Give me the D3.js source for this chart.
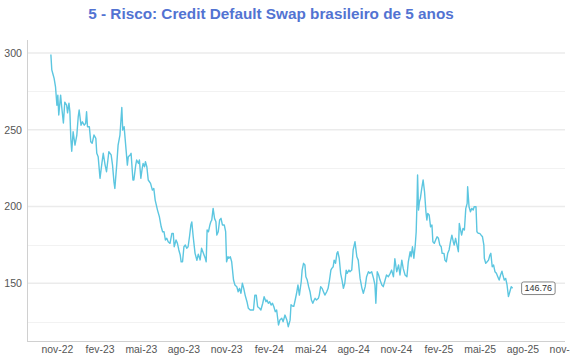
<!DOCTYPE html>
<html>
<head>
<meta charset="utf-8">
<script src="https://cdn.jsdelivr.net/npm/d3@7"></script>
<style>
html,body{margin:0;padding:0;background:#fff;}
svg{display:block;font-family:"Liberation Sans",Arial,Helvetica,sans-serif;}
</style>
</head>
<body>
<svg id="chart" width="570" height="360"></svg>
<script>
const title = "5 - Risco: Credit Default Swap brasileiro de 5 anos";
const monthNames = ["jan","fev","mar","abr","mai","jun","jul","ago","set","out","nov","dez"];
const xTickDates = ["2022-11-01","2023-02-01","2023-05-01","2023-08-01","2023-11-01","2024-02-01","2024-05-01","2024-08-01","2024-11-01","2025-02-01","2025-05-01","2025-08-01","2025-11-01"];
const yTickValues = [150, 200, 250, 300];
const yMinorValues = [125, 175, 225, 275];

const dates = [
"2022-10-19","2022-10-21","2022-10-24","2022-10-26","2022-10-29","2022-11-01","2022-11-03","2022-11-05","2022-11-09","2022-11-11",
"2022-11-15","2022-11-18","2022-11-22","2022-11-24","2022-11-27","2022-11-29","2022-12-01","2022-12-03","2022-12-06","2022-12-10",
"2022-12-14","2022-12-17","2022-12-19","2022-12-23","2022-12-26","2022-12-30","2023-01-02","2023-01-04","2023-01-06","2023-01-10",
"2023-01-13","2023-01-16","2023-01-20","2023-01-24","2023-01-26","2023-01-29","2023-02-02","2023-02-06","2023-02-09","2023-02-13",
"2023-02-16","2023-02-19","2023-02-21","2023-02-26","2023-03-01","2023-03-04","2023-03-06","2023-03-10","2023-03-13","2023-03-17",
"2023-03-21","2023-03-23","2023-03-26","2023-03-29","2023-04-02","2023-04-04","2023-04-08","2023-04-10","2023-04-14","2023-04-16",
"2023-04-20","2023-04-22","2023-04-26","2023-04-28","2023-05-01","2023-05-04","2023-05-06","2023-05-09","2023-05-11","2023-05-14",
"2023-05-17","2023-05-22","2023-05-26","2023-05-29","2023-06-01","2023-06-06","2023-06-10","2023-06-14","2023-06-17","2023-06-20",
"2023-06-23","2023-06-26","2023-06-29","2023-07-03","2023-07-07","2023-07-10","2023-07-12","2023-07-16","2023-07-19","2023-07-22",
"2023-07-25","2023-07-27","2023-07-30","2023-08-02","2023-08-05","2023-08-08","2023-08-11","2023-08-14","2023-08-17","2023-08-19",
"2023-08-22","2023-08-26","2023-08-30","2023-09-02","2023-09-06","2023-09-09","2023-09-13","2023-09-17","2023-09-19","2023-09-21",
"2023-09-24","2023-09-27","2023-09-29","2023-10-01","2023-10-04","2023-10-07","2023-10-10","2023-10-12","2023-10-15","2023-10-18",
"2023-10-21","2023-10-24","2023-10-28","2023-10-31","2023-11-02","2023-11-05","2023-11-07","2023-11-10","2023-11-13","2023-11-17",
"2023-11-20","2023-11-24","2023-11-27","2023-11-30","2023-12-03","2023-12-06","2023-12-09","2023-12-12","2023-12-16","2023-12-19",
"2023-12-23","2023-12-26","2023-12-30","2024-01-02","2024-01-05","2024-01-08","2024-01-12","2024-01-15","2024-01-19","2024-01-22",
"2024-01-26","2024-01-28","2024-01-31","2024-02-03","2024-02-06","2024-02-09","2024-02-12","2024-02-15","2024-02-18","2024-02-22",
"2024-02-25","2024-02-29","2024-03-03","2024-03-07","2024-03-11","2024-03-14","2024-03-18","2024-03-20","2024-03-23","2024-03-26",
"2024-03-29","2024-04-01","2024-04-04","2024-04-07","2024-04-11","2024-04-13","2024-04-16","2024-04-19","2024-04-21","2024-04-24",
"2024-04-27","2024-04-30","2024-05-03","2024-05-06","2024-05-09","2024-05-11","2024-05-14","2024-05-18","2024-05-20","2024-05-23",
"2024-05-26","2024-05-29","2024-06-01","2024-06-05","2024-06-08","2024-06-11","2024-06-14","2024-06-16","2024-06-19","2024-06-21",
"2024-06-24","2024-06-27","2024-06-29","2024-07-02","2024-07-05","2024-07-08","2024-07-11","2024-07-14","2024-07-17","2024-07-19",
"2024-07-23","2024-07-25","2024-07-29","2024-08-01","2024-08-05","2024-08-09","2024-08-12","2024-08-16","2024-08-20","2024-08-23",
"2024-08-27","2024-08-30","2024-09-03","2024-09-06","2024-09-10","2024-09-14","2024-09-17","2024-09-19","2024-09-22","2024-09-25",
"2024-09-28","2024-10-02","2024-10-05","2024-10-09","2024-10-12","2024-10-16","2024-10-20","2024-10-23","2024-10-27","2024-10-30",
"2024-11-03","2024-11-07","2024-11-10","2024-11-14","2024-11-17","2024-11-21","2024-11-25","2024-11-28","2024-12-02","2024-12-04",
"2024-12-07","2024-12-10","2024-12-13","2024-12-15","2024-12-17","2024-12-18","2024-12-20","2024-12-22","2024-12-24","2024-12-27",
"2024-12-30","2025-01-02","2025-01-05","2025-01-07","2025-01-09","2025-01-12","2025-01-15","2025-01-18","2025-01-20","2025-01-23",
"2025-01-26","2025-01-29","2025-02-01","2025-02-04","2025-02-07","2025-02-09","2025-02-13","2025-02-15","2025-02-18","2025-02-21",
"2025-02-24","2025-02-27","2025-03-02","2025-03-05","2025-03-07","2025-03-10","2025-03-13","2025-03-16","2025-03-18","2025-03-20",
"2025-03-23","2025-03-26","2025-03-29","2025-04-01","2025-04-04","2025-04-05","2025-04-08","2025-04-11","2025-04-14","2025-04-17",
"2025-04-19","2025-04-23","2025-04-25","2025-04-28","2025-05-01","2025-05-04","2025-05-07","2025-05-10","2025-05-11","2025-05-14",
"2025-05-17","2025-05-20","2025-05-23","2025-05-25","2025-05-28","2025-05-31","2025-06-03","2025-06-06","2025-06-09","2025-06-12",
"2025-06-15","2025-06-18","2025-06-20","2025-06-23","2025-06-26","2025-06-29","2025-07-02","2025-07-05","2025-07-08","2025-07-11"
];

const cds = [
299.0,289.0,285.7,283.5,278.0,266.0,272.6,259.6,272.6,266.0,
254.4,268.0,266.0,261.0,267.4,261.8,244.4,236.0,248.7,240.0,
246.6,258.5,262.9,253.0,255.2,253.0,254.2,261.8,252.0,252.0,
242.2,241.2,246.6,244.4,234.7,232.5,218.4,228.1,234.7,227.0,
222.7,230.3,235.7,233.6,227.0,216.2,211.8,227.0,240.0,246.6,
264.5,249.8,252.0,241.2,227.0,232.5,233.6,234.7,217.3,217.3,
227.0,230.3,228.1,230.3,218.4,224.9,228.1,225.9,229.2,225.9,
217.3,215.1,210.7,211.8,204.2,197.7,193.4,186.8,183.6,183.6,
178.2,179.3,177.1,176.0,182.5,182.5,173.8,178.2,176.0,171.7,
168.4,164.0,164.0,173.8,174.9,172.8,173.8,180.3,188.0,190.0,
180.3,169.5,165.0,169.0,165.2,172.8,169.5,166.3,164.0,184.7,
183.6,188.0,190.1,191.2,198.8,192.3,190.1,181.4,183.6,191.2,
192.3,188.0,188.0,183.6,164.0,167.3,166.3,167.3,164.0,152.1,
148.9,147.8,144.5,146.7,143.5,150.0,146.7,142.3,138.0,133.7,
132.6,132.6,132.6,142.3,142.3,134.7,133.7,132.6,137.0,141.3,
138.0,139.1,137.0,138.0,135.8,137.0,134.7,131.5,132.6,122.8,
126.1,127.2,125.0,129.3,126.1,121.7,126.0,136.0,135.2,135.0,
139.1,143.5,148.9,142.3,151.0,158.6,163.0,161.9,154.3,152.1,
147.8,144.5,139.1,137.0,139.1,140.2,139.1,140.2,142.3,147.8,
146.7,144.5,142.3,144.5,146.7,152.1,158.6,159.7,160.8,165.1,
163.0,169.5,170.6,166.3,156.5,152.1,146.7,150.0,158.6,156.5,
158.6,157.5,158.6,171.7,177.1,167.3,165.1,153.2,146.7,143.5,
147.8,154.3,157.5,156.5,157.5,153.2,148.9,137.0,157.5,155.4,
152.1,148.9,147.8,152.1,155.4,154.3,156.5,158.6,154.3,166.0,
157.5,161.9,155.4,165.1,159.7,155.4,154.3,164.0,170.6,167.3,
173.8,166.3,174.9,183.6,205.3,220.5,197.7,203.1,205.3,211.8,
217.3,209.6,196.6,191.2,195.5,194.5,186.8,188.0,177.1,176.0,
178.2,180.3,179.3,174.9,173.8,169.5,169.5,165.1,164.0,169.5,
171.7,177.1,181.4,177.1,174.9,179.3,174.9,170.6,189.0,185.8,
181.4,185.8,184.7,198.8,202.1,212.9,199.9,196.6,198.8,197.7,
199.9,199.9,183.6,182.5,182.5,181.4,180.3,174.9,166.3,163.0,
164.0,165.1,168.4,169.5,160.8,161.9,157.5,156.5,154.3,152.1,
155.4,157.9,155.4,152.1,153.2,148.9,141.3,144.5,147.8,146.76
];

const parse = d3.utcParse("%Y-%m-%d");
const data = dates.map((d, i) => ({ date: parse(d), value: cds[i] }));

const svg = d3.select("#chart");
const plotLeft = 27, plotRight = 565, plotTop = 40, plotBottom = 341;

const x = d3.scaleUtc()
  .domain([new Date(Date.UTC(2022, 7, 28, 12)), new Date(Date.UTC(2025, 10, 1))])
  .range([plotLeft, plotRight]);
const y = d3.scaleLinear()
  .domain([112.4, 308.5])
  .range([plotBottom, plotTop]);

// title
svg.append("text")
  .attr("x", 271).attr("y", 18.5)
  .attr("text-anchor", "middle")
  .attr("font-size", "15.3px")
  .attr("font-weight", "bold")
  .attr("fill", "#5273d2")
  .text(title);

// grid lines
const grid = svg.append("g");
grid.selectAll("line.minor").data(yMinorValues).join("line")
  .attr("class", "minor")
  .attr("x1", plotLeft).attr("x2", plotRight)
  .attr("y1", d => Math.round(y(d)) + 0.5).attr("y2", d => Math.round(y(d)) + 0.5)
  .attr("stroke", "#f2f2f2").attr("stroke-width", 1);
grid.selectAll("line.major").data(yTickValues).join("line")
  .attr("class", "major")
  .attr("x1", plotLeft).attr("x2", plotRight)
  .attr("y1", d => y(d)).attr("y2", d => y(d))
  .attr("stroke", "#ebebeb").attr("stroke-width", 1.5);

// axes lines
svg.append("line")
  .attr("x1", plotLeft + 0.5).attr("x2", plotLeft + 0.5)
  .attr("y1", plotTop).attr("y2", plotBottom)
  .attr("stroke", "#d0d0d0").attr("stroke-width", 1);
svg.append("line")
  .attr("x1", plotLeft).attr("x2", plotRight)
  .attr("y1", plotBottom + 0.5).attr("y2", plotBottom + 0.5)
  .attr("stroke", "#d0d0d0").attr("stroke-width", 1);

// y axis labels
const yAxis = d3.axisLeft(y).tickValues(yTickValues).tickSize(0).tickPadding(5).tickFormat(d3.format("d"));
const gy = svg.append("g").attr("transform", `translate(${plotLeft},0)`).call(yAxis);
gy.select(".domain").remove();
gy.selectAll("text").attr("font-size", "10.6px").attr("fill", "#555")
  .attr("font-family", '"Liberation Sans",Arial,sans-serif');

// x axis labels
const fmt = d => monthNames[d.getUTCMonth()] + "-" + String(d.getUTCFullYear()).slice(2);
const xAxis = d3.axisBottom(x).tickValues(xTickDates.map(parse)).tickSize(0).tickPadding(5).tickFormat(fmt);
const gx = svg.append("g").attr("transform", `translate(0,${plotBottom})`).call(xAxis);
gx.select(".domain").remove();
gx.selectAll("text").attr("font-size", "10.4px").attr("fill", "#555")
  .attr("font-family", '"Liberation Sans",Arial,sans-serif');

// line
const line = d3.line().x(d => x(d.date)).y(d => y(d.value));
svg.append("path")
  .datum(data)
  .attr("fill", "none")
  .attr("stroke", "#5cc6e0")
  .attr("stroke-width", 1.4)
  .attr("stroke-linejoin", "round")
  .attr("d", line);

// end label
const last = data[data.length - 1];
const lx = x(last.date) + 9, ly = y(last.value);
const lbl = svg.append("g");
lbl.append("rect")
  .attr("x", lx).attr("y", ly - 6.3)
  .attr("width", 33.5).attr("height", 12.6)
  .attr("rx", 2).attr("ry", 2)
  .attr("fill", "#fff").attr("stroke", "#666").attr("stroke-width", 0.8);
lbl.append("text")
  .attr("x", lx + 16.75).attr("y", ly + 3.2)
  .attr("text-anchor", "middle")
  .attr("font-size", "9px").attr("fill", "#333")
  .text(d3.format(".2f")(last.value));
</script>
</body>
</html>
